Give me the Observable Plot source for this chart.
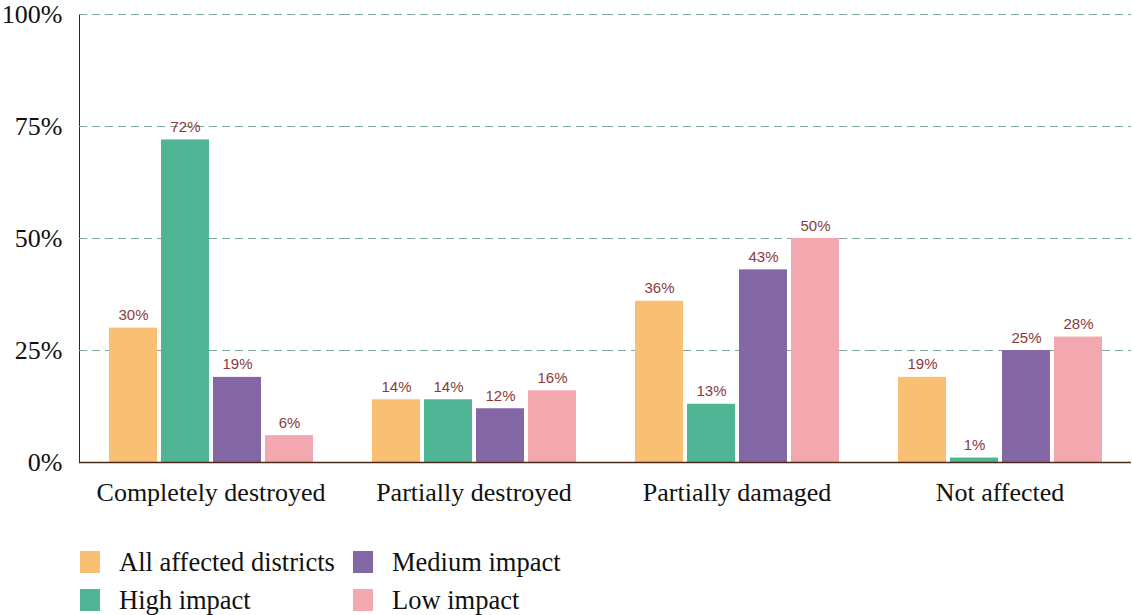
<!DOCTYPE html>
<html>
<head>
<meta charset="utf-8">
<script src="https://cdn.jsdelivr.net/npm/d3@7"></script>
<script src="https://cdn.jsdelivr.net/npm/@observablehq/plot@0.6"></script>
<style>
  body { margin: 0; background: #fff; }
  #legend { display: grid; grid-template-columns: 273px 300px; margin: 22px 0 0 80px; row-gap: 8px;
    font-family: "Liberation Serif", "Times New Roman", serif; font-size: 26.5px; color: #111; }
  .item { display: flex; align-items: center; height: 30px; }
  .sw { width: 20px; height: 22px; margin-right: 19px; }
</style>
</head>
<body>
<div id="chart"></div>
<div id="legend"></div>
<script>
const groups = ["Completely destroyed", "Partially destroyed", "Partially damaged", "Not affected"];
const series = ["All affected districts", "High impact", "Medium impact", "Low impact"];
const colors = ["#f9c074", "#50b595", "#8468a6", "#f3a8b0"];
const allAffected = [30, 14, 36, 19];
const highImpact = [72, 14, 13, 1];
const mediumImpact = [19, 12, 43, 25];
const lowImpact = [6, 16, 50, 28];
const yTicks = [0, 25, 50, 75, 100];

const seriesValues = [allAffected, highImpact, mediumImpact, lowImpact];
const data = [];
groups.forEach((g, gi) => series.forEach((s, si) => data.push({group: g, series: s, value: seriesValues[si][gi]})));

const plot = Plot.plot({
  width: 1133,
  height: 525,
  marginLeft: 79,
  marginRight: 2,
  marginTop: 14,
  marginBottom: 63,
  style: "font-family: 'Liberation Serif', 'Times New Roman', serif; font-size: 26px; background: #fff; color: #3a2218;",
  fx: {domain: groups, padding: 0, label: null, axis: "bottom", tickSize: 0, tickPadding: 20},
  x: {domain: series, paddingInner: 0.086, paddingOuter: 0.55, axis: null},
  y: {domain: [0, 100], ticks: yTicks, tickFormat: d => d + "%", tickSize: 0, tickPadding: 17, line: true, label: null},
  color: {domain: series, range: colors},
  marks: [
    Plot.gridY(yTicks.filter(d => d > 0), {stroke: "#7fa89a", strokeOpacity: 1, strokeDasharray: "8,5", strokeWidth: 1}),
    Plot.barY(data, {fx: "group", x: "series", y: "value", fill: "series"}),
    Plot.text(data, {fx: "group", x: "series", y: "value", text: d => d.value + "%", dy: -8, lineAnchor: "bottom",
      fill: "#8b3a3a", fontSize: 15, fontFamily: "'Liberation Sans', Arial, sans-serif"}),
    Plot.ruleY([0], {stroke: "#4a2818", strokeWidth: 1.5})
  ]
});
plot.querySelectorAll("[aria-label='y-axis tick label'] text, [aria-label='fx-axis tick label'] text").forEach(t => t.setAttribute("fill", "#111"));
document.getElementById("chart").append(plot);

const legend = document.getElementById("legend");
const order = [0, 2, 1, 3];
order.forEach(i => {
  const item = document.createElement("div");
  item.className = "item";
  const sw = document.createElement("span");
  sw.className = "sw";
  sw.style.background = colors[i];
  const label = document.createElement("span");
  label.textContent = series[i];
  item.append(sw, label);
  legend.append(item);
});
</script>
</body>
</html>
